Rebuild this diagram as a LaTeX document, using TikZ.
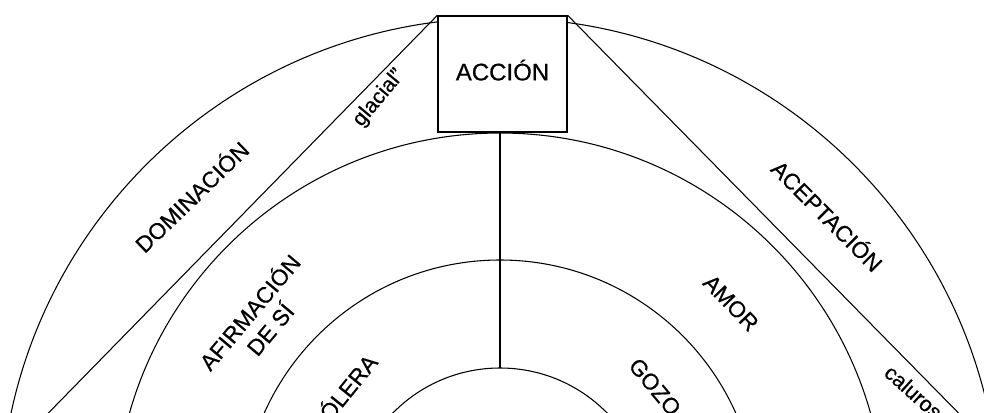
\documentclass[tikz,border=0pt]{standalone}
\usepackage{fontspec}
\setmainfont{Liberation Sans}[FakeBold=0.6]

\begin{document}
\begin{tikzpicture}[x=0.75pt, y=0.75pt, font=\fontsize{17}{20}\selectfont,
    ring/.style={line width=0.8pt},
    lbl/.style={align=center, inner sep=0pt}]

\useasboundingbox (0,0) rectangle (984,412);
\clip (0,0) rectangle (984,412);

\coordinate (centro) at (500,-106);
\coordinate (cima) at (500,44);
\coordinate (izq) at (22,-28);
\coordinate (der) at (985,-28);

% the four rings
\draw[ring] (centro) circle[radius=500];
\draw[ring] (centro) circle[radius=385];
\draw[ring] (centro) circle[radius=258];
\draw[ring] (centro) circle[radius=150];

\node[draw, line width=1pt, fill=white, minimum width=96.75pt, minimum height=87pt,
    text depth=6pt, font=\fontsize{18}{20}\selectfont] (accion) at (502.5,338) {ACCIÓN};

\draw[ring] (accion.north west) -- (izq);
\draw[ring] (accion.north east) -- (der);
\draw[ring] (cima |- accion.south) -- (cima);

% left side
\node[lbl, rotate=50, font=\fontsize{16}{18}\selectfont] (glacial) at (379,314) {glacial"};
\node[lbl, rotate=44] (dominacion) at (191,216) {DOMINACIÓN};
\node[lbl, rotate=50] (afirmacion) at (259,92) {AFIRMACIÓN\\DE SÍ};
\node[lbl, rotate=51] (colera) at (342,19) {CÓLERA};

% right side
\node[lbl, rotate=-45] (aceptacion) at (828,197) {ACEPTACIÓN};
\node[lbl, rotate=-46] (amor) at (731,109) {AMOR};
\node[lbl, rotate=-50] (gozo) at (655,25) {GOZO};
\node[lbl, rotate=-42, font=\fontsize{16}{18}\selectfont] (calurosa) at (918,16) {calurosa};

\end{tikzpicture}
\end{document}
